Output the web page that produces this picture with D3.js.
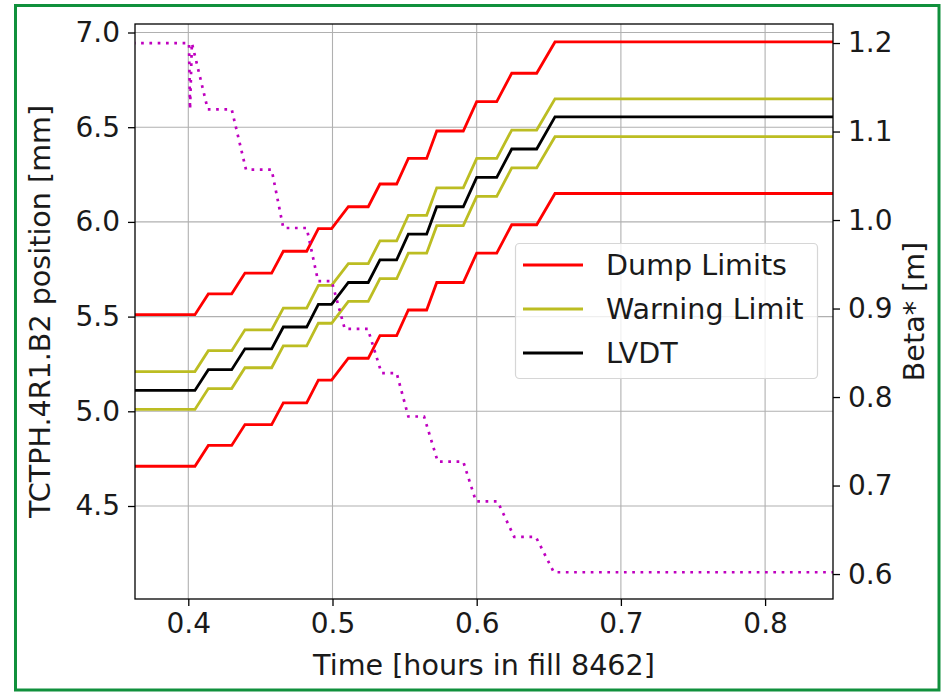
<!DOCTYPE html>
<html>
<head>
<meta charset="utf-8">
<script src="https://cdn.jsdelivr.net/npm/d3@7/dist/d3.min.js"></script>
<style>
  html, body { margin: 0; padding: 0; background: #fff; }
  svg text { font-family: "DejaVu Sans", sans-serif; fill: #1a1a1a; }
</style>
</head>
<body>
<svg id="chart" width="942" height="693"></svg>
<script>
// ---- data ----
// knot times of the staircase (hours in fill); each level is held between two knots
const stepTimes = [0.35, 0.4046, 0.4139, 0.4301, 0.4393, 0.4578, 0.4659, 0.4821, 0.4902, 0.4994,
                   0.5110, 0.5248, 0.5329, 0.5445, 0.5526, 0.5653, 0.5723, 0.5907, 0.6000, 0.6139,
                   0.6243, 0.6416, 0.6543, 0.86];
const dumpUpper    = [5.51, 5.62, 5.73, 5.845, 5.965, 6.08, 6.20, 6.335, 6.48, 6.635, 6.785, 6.95];
const dumpLower    = [4.71, 4.82, 4.93, 5.045, 5.165, 5.28, 5.40, 5.535, 5.68, 5.835, 5.985, 6.15];
const warningUpper = [5.21, 5.32, 5.43, 5.545, 5.665, 5.78, 5.90, 6.035, 6.18, 6.335, 6.485, 6.65];
const warningLower = [5.01, 5.12, 5.23, 5.345, 5.465, 5.58, 5.70, 5.835, 5.98, 6.135, 6.285, 6.45];
const lvdt         = [5.11, 5.22, 5.33, 5.445, 5.565, 5.68, 5.80, 5.935, 6.08, 6.235, 6.385, 6.555];

const betaTimes  = [0.35, 0.4005, 0.4012, 0.4025, 0.4135, 0.4301, 0.4400, 0.4578, 0.4659, 0.4821,
                    0.4900, 0.4994, 0.5085, 0.5245, 0.5340, 0.5445, 0.5526, 0.5635, 0.5730, 0.5907,
                    0.5995, 0.6145, 0.6260, 0.6410, 0.6535, 0.86];
const betaValues = [1.2, 1.2, 1.125, 1.2, 1.125, 1.125, 1.057, 1.057, 0.991, 0.991,
                    0.931, 0.931, 0.877, 0.877, 0.827, 0.827, 0.778, 0.778, 0.727, 0.727,
                    0.682, 0.682, 0.642, 0.642, 0.602, 0.602];

const xTicks = [0.4, 0.5, 0.6, 0.7, 0.8];
const yTicks = [4.5, 5.0, 5.5, 6.0, 6.5, 7.0];
const y2Ticks = [0.6, 0.7, 0.8, 0.9, 1.0, 1.1, 1.2];

const legendItems = [
  {label: "Dump Limits", color: "#ff0000"},
  {label: "Warning Limit", color: "#bcbd22"},
  {label: "LVDT", color: "#000000"}
];

// ---- layout ----
const L = 135, R = 833, T = 24, B = 599;
const FS = 28;     // tick labels
const FSL = 28.6;  // axis labels and legend
const LW = 2.8;

const svg = d3.select("#chart");

const x = d3.scaleLinear().domain([0.36304, 0.84709]).range([L, R]);
const y = d3.scaleLinear().domain([4.009, 7.0449]).range([B, T]);
const y2 = d3.scaleLinear().domain([0.5718, 1.2215]).range([B, T]);

// outer green frame
svg.append("rect").attr("x", 15.5).attr("y", 5.5).attr("width", 923.5).attr("height", 684.5)
  .attr("fill", "none").attr("stroke", "#10903c").attr("stroke-width", 3);

svg.append("defs").append("clipPath").attr("id", "clip")
  .append("rect").attr("x", L).attr("y", T).attr("width", R - L).attr("height", B - T);

// grid
const grid = svg.append("g").attr("stroke", "#b0b0b0").attr("stroke-width", 1.1);
xTicks.forEach(t => grid.append("line").attr("x1", x(t)).attr("x2", x(t)).attr("y1", T).attr("y2", B));
yTicks.forEach(t => grid.append("line").attr("x1", L).attr("x2", R).attr("y1", y(t)).attr("y2", y(t)));

// lines
const plot = svg.append("g").attr("clip-path", "url(#clip)");
const line = d3.line().x(d => x(d[0])).y(d => y(d[1]));
const stair = levels => stepTimes.map((t, i) => [t, levels[Math.floor(i / 2)]]);

[[dumpUpper, "#ff0000"], [dumpLower, "#ff0000"],
 [warningUpper, "#bcbd22"], [warningLower, "#bcbd22"],
 [lvdt, "#000000"]].forEach(([lv, c]) => {
  plot.append("path").datum(stair(lv)).attr("d", line)
    .attr("fill", "none").attr("stroke", c).attr("stroke-width", LW)
    .attr("stroke-linejoin", "miter");
});

const line2 = d3.line().x(d => x(d[0])).y(d => y2(d[1]));
plot.append("path").datum(betaTimes.map((t, i) => [t, betaValues[i]])).attr("d", line2)
  .attr("fill", "none").attr("stroke", "#bf00bf").attr("stroke-width", 2.7)
  .attr("stroke-dasharray", "2.7 5.6");

// spines
svg.append("rect").attr("x", L).attr("y", T).attr("width", R - L).attr("height", B - T)
  .attr("fill", "none").attr("stroke", "#000").attr("stroke-width", 1.3);

// axes
function styleAxis(g) {
  g.select(".domain").remove();
  g.selectAll(".tick line").attr("stroke", "#000").attr("stroke-width", 1.3);
  g.selectAll(".tick text").attr("font-size", FS).attr("font-family", "DejaVu Sans").attr("fill", "#1a1a1a");
}
const fmt = d3.format(".1f");
svg.append("g").attr("transform", `translate(0,${B})`)
  .call(d3.axisBottom(x).tickValues(xTicks).tickFormat(fmt).tickSize(7).tickPadding(7))
  .call(styleAxis);
svg.append("g").attr("transform", `translate(${L},0)`)
  .call(d3.axisLeft(y).tickValues(yTicks).tickFormat(fmt).tickSize(7).tickPadding(8))
  .call(styleAxis);
svg.append("g").attr("transform", `translate(${R},0)`)
  .call(d3.axisRight(y2).tickValues(y2Ticks).tickFormat(fmt).tickSize(7).tickPadding(8))
  .call(styleAxis);

// axis labels
svg.append("text").attr("x", (L + R) / 2).attr("y", 675).attr("text-anchor", "middle")
  .attr("font-size", FSL).text("Time [hours in fill 8462]");
svg.append("text").attr("transform", `translate(50,${(T + B) / 2}) rotate(-90)`)
  .attr("text-anchor", "middle").attr("font-size", FSL).text("TCTPH.4R1.B2 position [mm]");
svg.append("text").attr("transform", `translate(924,${(T + B) / 2}) rotate(-90)`)
  .attr("text-anchor", "middle").attr("font-size", FSL).text("Beta* [m]");

// legend
const lg = svg.append("g");
lg.append("rect").attr("x", 515.5).attr("y", 243.5).attr("width", 302).attr("height", 135)
  .attr("rx", 4).attr("fill", "#fff").attr("fill-opacity", 0.8)
  .attr("stroke", "#d6d6d6").attr("stroke-width", 1.2);
legendItems.forEach((d, i) => {
  const yy = 265 + i * 44;
  lg.append("line").attr("x1", 523).attr("x2", 583).attr("y1", yy).attr("y2", yy)
    .attr("stroke", d.color).attr("stroke-width", LW);
  lg.append("text").attr("x", 606).attr("y", yy).attr("dy", "0.36em")
    .attr("font-size", FSL).text(d.label);
});
</script>
</body>
</html>
